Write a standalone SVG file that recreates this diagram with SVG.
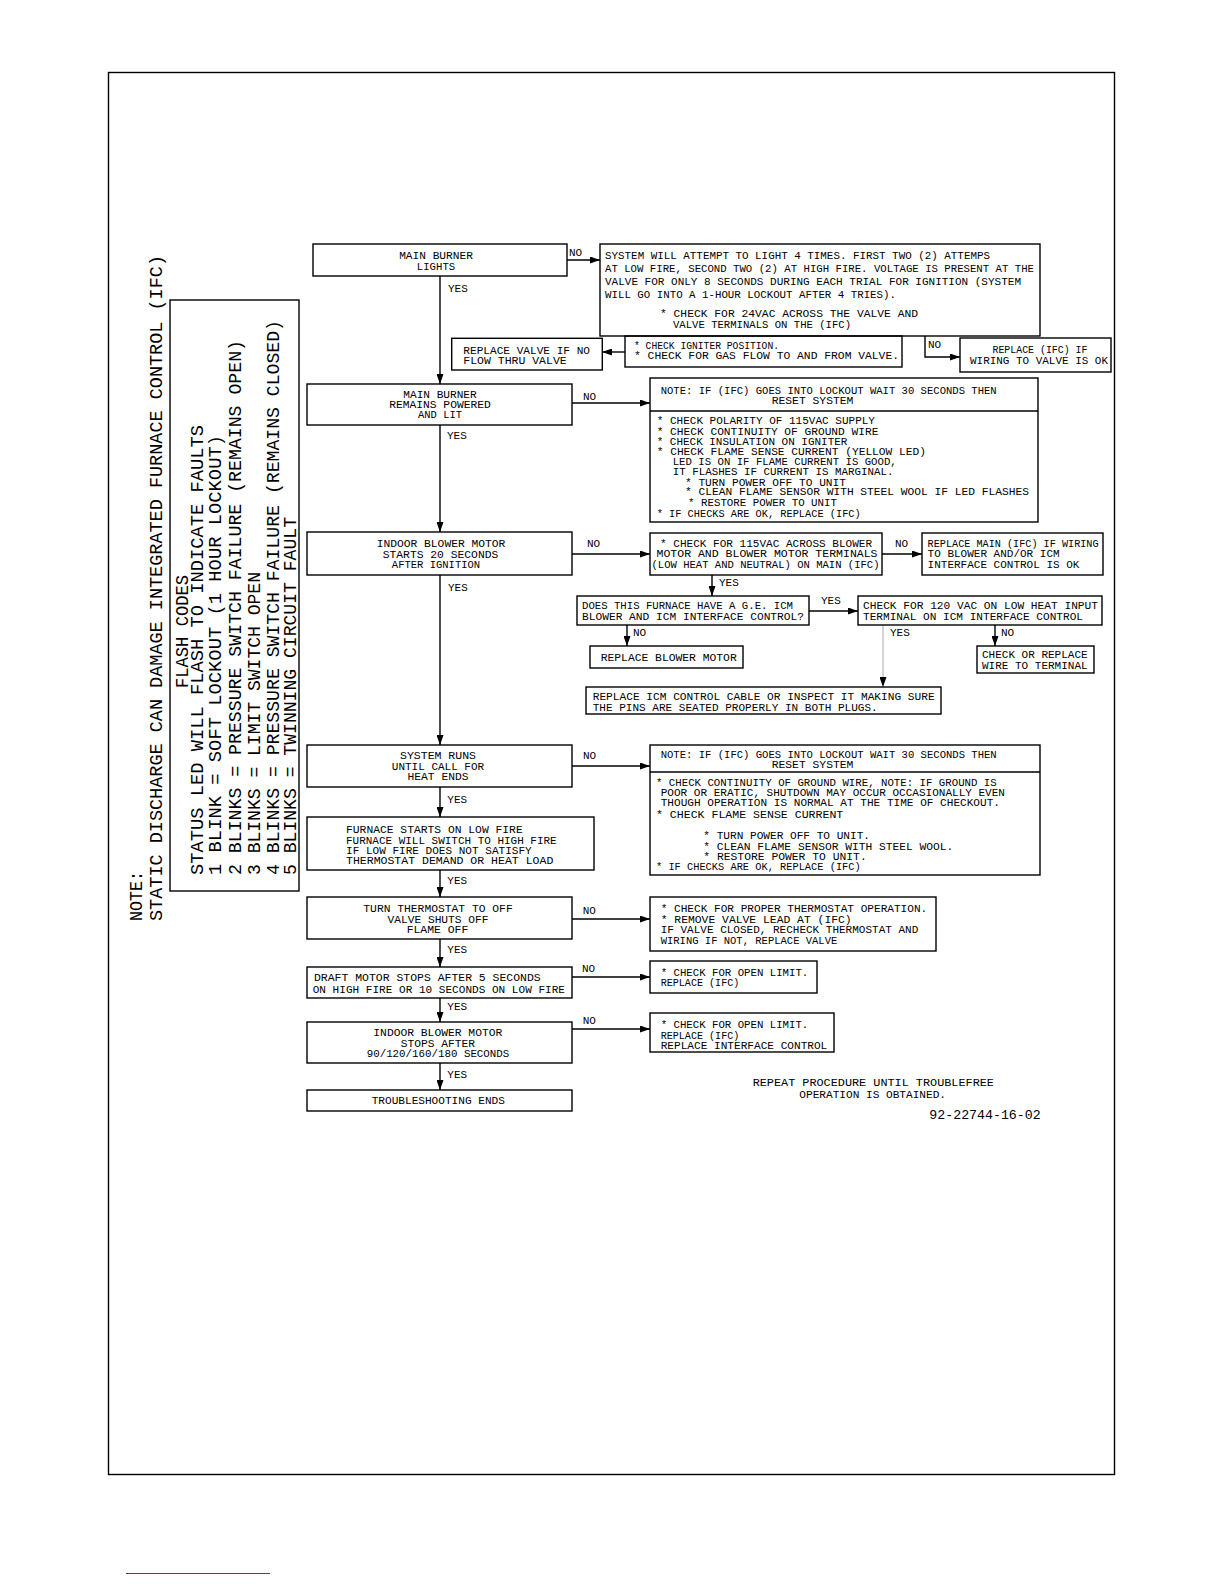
<svg xmlns="http://www.w3.org/2000/svg" width="1224" height="1584" viewBox="0 0 1224 1584">
<defs>
<marker id="ah" markerUnits="userSpaceOnUse" markerWidth="10" markerHeight="7" refX="10" refY="3.5" orient="auto">
<path d="M0,0 L10,3.5 L0,7 z" fill="#000"/>
</marker>
<style>
.b{fill:none;stroke:#000;stroke-width:1.4}
.ln{fill:none;stroke:#000;stroke-width:1.4}
.thin{fill:none;stroke:#aaa;stroke-width:1}
.t{font-family:"Liberation Mono","DejaVu Sans Mono",monospace;font-size:11px;fill:#000}
.c{text-anchor:middle}
.big{font-size:19px}
</style>
</defs>
<rect width="1224" height="1584" fill="#fff"/>
<rect x="108.5" y="72.5" width="1006" height="1402" class="b"/>
<line x1="126" y1="1573.5" x2="270" y2="1573.5" stroke="#3344cc" stroke-width="1"/>

<g id="note-left">
<text class="t big" transform="translate(142,921) rotate(-90)" textLength="50" lengthAdjust="spacingAndGlyphs">NOTE:</text>
<text class="t big" transform="translate(162,921) rotate(-90)" textLength="666" lengthAdjust="spacingAndGlyphs">STATIC DISCHARGE CAN DAMAGE INTEGRATED FURNACE CONTROL (IFC)</text>
</g>
<g id="flash-codes">
<rect x="170" y="300" width="129" height="591" class="b"/>
<text class="t big" transform="translate(188,688) rotate(-90)" textLength="113" lengthAdjust="spacingAndGlyphs">FLASH CODES</text>
<text class="t big" transform="translate(203,875) rotate(-90)" textLength="450" lengthAdjust="spacingAndGlyphs">STATUS LED WILL FLASH TO INDICATE FAULTS</text>
<text class="t big" transform="translate(221,875) rotate(-90)" textLength="440" lengthAdjust="spacingAndGlyphs">1 BLINK = SOFT LOCKOUT (1 HOUR LOCKOUT)</text>
<text class="t big" transform="translate(241,875) rotate(-90)" textLength="535" lengthAdjust="spacingAndGlyphs">2 BLINKS = PRESSURE SWITCH FAILURE (REMAINS OPEN)</text>
<text class="t big" transform="translate(260,875) rotate(-90)" textLength="303" lengthAdjust="spacingAndGlyphs">3 BLINKS = LIMIT SWITCH OPEN</text>
<text class="t big" transform="translate(279,875) rotate(-90)" textLength="555" lengthAdjust="spacingAndGlyphs">4 BLINKS = PRESSURE SWITCH FAILURE (REMAINS CLOSED)</text>
<text class="t big" transform="translate(296,875) rotate(-90)" textLength="358" lengthAdjust="spacingAndGlyphs">5 BLINKS = TWINNING CIRCUIT FAULT</text>
</g>

<g id="connectors">
<line x1="440" y1="276" x2="440" y2="384" class="ln" marker-end="url(#ah)"/>
<line x1="440" y1="425" x2="440" y2="532" class="ln" marker-end="url(#ah)"/>
<line x1="440" y1="575" x2="440" y2="745" class="ln" marker-end="url(#ah)"/>
<line x1="440" y1="787" x2="440" y2="817" class="ln" marker-end="url(#ah)"/>
<line x1="440" y1="870" x2="440" y2="897" class="ln" marker-end="url(#ah)"/>
<line x1="440" y1="939" x2="440" y2="967" class="ln" marker-end="url(#ah)"/>
<line x1="440" y1="998" x2="440" y2="1022" class="ln" marker-end="url(#ah)"/>
<line x1="440" y1="1063" x2="440" y2="1090" class="ln" marker-end="url(#ah)"/>
<line x1="567" y1="260" x2="600" y2="260" class="ln" marker-end="url(#ah)"/>
<line x1="625" y1="352" x2="602" y2="352" class="ln" marker-end="url(#ah)"/>
<polyline points="925,336 925,357 960,357" class="ln" marker-end="url(#ah)"/>
<line x1="572" y1="403" x2="650" y2="403" class="ln" marker-end="url(#ah)"/>
<line x1="572" y1="554" x2="650" y2="554" class="ln" marker-end="url(#ah)"/>
<line x1="882" y1="554" x2="922" y2="554" class="ln" marker-end="url(#ah)"/>
<line x1="712" y1="575" x2="712" y2="596" class="ln" marker-end="url(#ah)"/>
<line x1="809" y1="611" x2="858" y2="611" class="ln" marker-end="url(#ah)"/>
<line x1="627" y1="625" x2="627" y2="646" class="ln" marker-end="url(#ah)"/>
<line x1="883" y1="625" x2="883" y2="687" class="thin" marker-end="url(#ah)"/>
<line x1="995" y1="625" x2="995" y2="646" class="ln" marker-end="url(#ah)"/>
<line x1="572" y1="766" x2="650" y2="766" class="ln" marker-end="url(#ah)"/>
<line x1="572" y1="919" x2="650" y2="919" class="ln" marker-end="url(#ah)"/>
<line x1="572" y1="977" x2="650" y2="977" class="ln" marker-end="url(#ah)"/>
<line x1="572" y1="1029" x2="650" y2="1029" class="ln" marker-end="url(#ah)"/>
<text class="t" x="569" y="255.5">NO</text>
<text class="t" x="448" y="292">YES</text>
<text class="t" x="928" y="347.5">NO</text>
<text class="t" x="583" y="399.7">NO</text>
<text class="t" x="447" y="439.4">YES</text>
<text class="t" x="587" y="547">NO</text>
<text class="t" x="895" y="547">NO</text>
<text class="t" x="448" y="591">YES</text>
<text class="t" x="719" y="586">YES</text>
<text class="t" x="821" y="604">YES</text>
<text class="t" x="633" y="636">NO</text>
<text class="t" x="890" y="636">YES</text>
<text class="t" x="1001" y="636">NO</text>
<text class="t" x="583" y="758.7">NO</text>
<text class="t" x="447.3" y="803">YES</text>
<text class="t" x="447.3" y="883.7">YES</text>
<text class="t" x="582.7" y="913.7">NO</text>
<text class="t" x="447.3" y="953">YES</text>
<text class="t" x="582" y="972">NO</text>
<text class="t" x="447.3" y="1009.7">YES</text>
<text class="t" x="582.7" y="1024.4">NO</text>
<text class="t" x="447.3" y="1078">YES</text>
</g>

<g id="main-burner-lights">
<rect x="313" y="244" width="254" height="32" class="b"/>
<text class="t c" x="436" y="259.4" textLength="73.7" lengthAdjust="spacingAndGlyphs">MAIN BURNER</text>
<text class="t c" x="436" y="269.7" textLength="38.3" lengthAdjust="spacingAndGlyphs">LIGHTS</text>
</g>
<g id="system-attempt">
<rect x="600" y="244" width="440" height="92" class="b"/>
<text class="t" x="605" y="259" textLength="385" lengthAdjust="spacingAndGlyphs">SYSTEM WILL ATTEMPT TO LIGHT 4 TIMES. FIRST TWO (2) ATTEMPS</text>
<text class="t" x="605" y="272" textLength="429" lengthAdjust="spacingAndGlyphs">AT LOW FIRE, SECOND TWO (2) AT HIGH FIRE. VOLTAGE IS PRESENT AT THE</text>
<text class="t" x="605" y="285" textLength="416" lengthAdjust="spacingAndGlyphs">VALVE FOR ONLY 8 SECONDS DURING EACH TRIAL FOR IGNITION (SYSTEM</text>
<text class="t" x="605" y="298" textLength="291" lengthAdjust="spacingAndGlyphs">WILL GO INTO A 1-HOUR LOCKOUT AFTER 4 TRIES).</text>
<text class="t" x="660" y="317" textLength="258" lengthAdjust="spacingAndGlyphs">* CHECK FOR 24VAC ACROSS THE VALVE AND</text>
<text class="t" x="673" y="328" textLength="178" lengthAdjust="spacingAndGlyphs">VALVE TERMINALS ON THE (IFC)</text>
</g>
<g id="check-igniter">
<rect x="625" y="336" width="277" height="31" class="b"/>
<text class="t" x="634" y="348.5" textLength="145" lengthAdjust="spacingAndGlyphs">* CHECK IGNITER POSITION.</text>
<text class="t" x="634" y="359" textLength="265" lengthAdjust="spacingAndGlyphs">* CHECK FOR GAS FLOW TO AND FROM VALVE.</text>
</g>
<g id="replace-valve">
<rect x="451.7" y="338.3" width="150.6" height="31.7" class="b"/>
<text class="t" x="463.3" y="353.7" textLength="126.7" lengthAdjust="spacingAndGlyphs">REPLACE VALVE IF NO</text>
<text class="t" x="463.3" y="363.7" textLength="103.4" lengthAdjust="spacingAndGlyphs">FLOW THRU VALVE</text>
</g>
<g id="replace-ifc-wiring">
<rect x="960" y="338" width="151" height="34" class="b"/>
<text class="t c" x="1040" y="352.5" textLength="95" lengthAdjust="spacingAndGlyphs">REPLACE (IFC) IF</text>
<text class="t c" x="1039" y="364" textLength="138" lengthAdjust="spacingAndGlyphs">WIRING TO VALVE IS OK</text>
</g>

<g id="main-burner-remains">
<rect x="307" y="384" width="265" height="41" class="b"/>
<text class="t c" x="440" y="397.7" textLength="73.4" lengthAdjust="spacingAndGlyphs">MAIN BURNER</text>
<text class="t c" x="440" y="408" textLength="101.7" lengthAdjust="spacingAndGlyphs">REMAINS POWERED</text>
<text class="t c" x="440" y="418" textLength="44" lengthAdjust="spacingAndGlyphs">AND LIT</text>
</g>
<g id="note-lockout-1">
<rect x="650" y="378" width="388" height="144" class="b"/>
<line x1="650" y1="411" x2="1038" y2="411" class="ln"/>
<text class="t" x="660.7" y="394.4" textLength="336" lengthAdjust="spacingAndGlyphs">NOTE: IF (IFC) GOES INTO LOCKOUT WAIT 30 SECONDS THEN</text>
<text class="t" x="771.7" y="404.4" textLength="81.7" lengthAdjust="spacingAndGlyphs">RESET SYSTEM</text>
<text class="t" x="656.7" y="424.4" textLength="218.3" lengthAdjust="spacingAndGlyphs">* CHECK POLARITY OF 115VAC SUPPLY</text>
<text class="t" x="656.7" y="434.7" textLength="221.7" lengthAdjust="spacingAndGlyphs">* CHECK CONTINUITY OF GROUND WIRE</text>
<text class="t" x="656.7" y="445" textLength="190.7" lengthAdjust="spacingAndGlyphs">* CHECK INSULATION ON IGNITER</text>
<text class="t" x="656.7" y="455" textLength="269.3" lengthAdjust="spacingAndGlyphs">* CHECK FLAME SENSE CURRENT (YELLOW LED)</text>
<text class="t" x="672.7" y="465.4" textLength="224" lengthAdjust="spacingAndGlyphs">LED IS ON IF FLAME CURRENT IS GOOD,</text>
<text class="t" x="672.7" y="475.4" textLength="220.7" lengthAdjust="spacingAndGlyphs">IT FLASHES IF CURRENT IS MARGINAL.</text>
<text class="t" x="685" y="485.7" textLength="161" lengthAdjust="spacingAndGlyphs">* TURN POWER OFF TO UNIT</text>
<text class="t" x="685" y="495.4" textLength="344" lengthAdjust="spacingAndGlyphs">* CLEAN FLAME SENSOR WITH STEEL WOOL IF LED FLASHES</text>
<text class="t" x="688" y="506" textLength="149" lengthAdjust="spacingAndGlyphs">* RESTORE POWER TO UNIT</text>
<text class="t" x="656.7" y="516.7" textLength="204" lengthAdjust="spacingAndGlyphs">* IF CHECKS ARE OK, REPLACE (IFC)</text>
</g>

<g id="indoor-blower-starts">
<rect x="307" y="532" width="265" height="43" class="b"/>
<text class="t c" x="441" y="547" textLength="128.7" lengthAdjust="spacingAndGlyphs">INDOOR BLOWER MOTOR</text>
<text class="t c" x="440.5" y="557.7" textLength="115.6" lengthAdjust="spacingAndGlyphs">STARTS 20 SECONDS</text>
<text class="t c" x="436" y="568" textLength="88.3" lengthAdjust="spacingAndGlyphs">AFTER IGNITION</text>
</g>
<g id="check-115vac">
<rect x="650" y="533" width="232" height="42" class="b"/>
<text class="t c" x="766" y="547" textLength="212" lengthAdjust="spacingAndGlyphs">* CHECK FOR 115VAC ACROSS BLOWER</text>
<text class="t c" x="767" y="557.3" textLength="221" lengthAdjust="spacingAndGlyphs">MOTOR AND BLOWER MOTOR TERMINALS</text>
<text class="t c" x="765.5" y="567.5" textLength="228" lengthAdjust="spacingAndGlyphs">(LOW HEAT AND NEUTRAL) ON MAIN (IFC)</text>
</g>
<g id="replace-main-ifc">
<rect x="922" y="533" width="181" height="42" class="b"/>
<text class="t" x="927.6" y="547" textLength="171" lengthAdjust="spacingAndGlyphs">REPLACE MAIN (IFC) IF WIRING</text>
<text class="t" x="927.6" y="557.3">TO BLOWER AND/OR ICM</text>
<text class="t" x="927.6" y="567.5">INTERFACE CONTROL IS OK</text>
</g>
<g id="ge-icm-question">
<rect x="577" y="596" width="232" height="29" class="b"/>
<text class="t" x="582" y="608.5" textLength="211" lengthAdjust="spacingAndGlyphs">DOES THIS FURNACE HAVE A G.E. ICM</text>
<text class="t" x="582" y="619.5" textLength="222" lengthAdjust="spacingAndGlyphs">BLOWER AND ICM INTERFACE CONTROL?</text>
</g>
<g id="check-120vac">
<rect x="858" y="596" width="244" height="29" class="b"/>
<text class="t" x="863" y="608.5" textLength="235" lengthAdjust="spacingAndGlyphs">CHECK FOR 120 VAC ON LOW HEAT INPUT</text>
<text class="t" x="863" y="619.5" textLength="220" lengthAdjust="spacingAndGlyphs">TERMINAL ON ICM INTERFACE CONTROL</text>
</g>
<g id="replace-blower-motor">
<rect x="590" y="646" width="153" height="22" class="b"/>
<text class="t" x="600.7" y="661" textLength="136" lengthAdjust="spacingAndGlyphs">REPLACE BLOWER MOTOR</text>
</g>
<g id="check-replace-wire">
<rect x="977" y="646" width="117" height="27" class="b"/>
<text class="t" x="982" y="657.5">CHECK OR REPLACE</text>
<text class="t" x="982" y="668.5">WIRE TO TERMINAL</text>
</g>
<g id="replace-icm-cable">
<rect x="586" y="687" width="355" height="27" class="b"/>
<text class="t" x="592.7" y="700.4" textLength="342" lengthAdjust="spacingAndGlyphs">REPLACE ICM CONTROL CABLE OR INSPECT IT MAKING SURE</text>
<text class="t" x="592.7" y="711" textLength="285" lengthAdjust="spacingAndGlyphs">THE PINS ARE SEATED PROPERLY IN BOTH PLUGS.</text>
</g>

<g id="system-runs">
<rect x="307" y="745" width="265" height="42" class="b"/>
<text class="t c" x="438" y="759.4" textLength="76" lengthAdjust="spacingAndGlyphs">SYSTEM RUNS</text>
<text class="t c" x="438" y="769.7" textLength="92.3" lengthAdjust="spacingAndGlyphs">UNTIL CALL FOR</text>
<text class="t c" x="438" y="780.4" textLength="61" lengthAdjust="spacingAndGlyphs">HEAT ENDS</text>
</g>
<g id="note-lockout-2">
<rect x="650" y="745" width="390" height="130" class="b"/>
<line x1="650" y1="772" x2="1040" y2="772" class="ln"/>
<text class="t" x="660.7" y="757.7" textLength="336" lengthAdjust="spacingAndGlyphs">NOTE: IF (IFC) GOES INTO LOCKOUT WAIT 30 SECONDS THEN</text>
<text class="t" x="771.7" y="767.7" textLength="81.7" lengthAdjust="spacingAndGlyphs">RESET SYSTEM</text>
<text class="t" x="656" y="786.4" textLength="340.7" lengthAdjust="spacingAndGlyphs">* CHECK CONTINUITY OF GROUND WIRE, NOTE: IF GROUND IS</text>
<text class="t" x="660.7" y="796.4" textLength="344.3" lengthAdjust="spacingAndGlyphs">POOR OR ERATIC, SHUTDOWN MAY OCCUR OCCASIONALLY EVEN</text>
<text class="t" x="660.7" y="806.4" textLength="339.3" lengthAdjust="spacingAndGlyphs">THOUGH OPERATION IS NORMAL AT THE TIME OF CHECKOUT.</text>
<text class="t" x="656" y="817.7" textLength="187.3" lengthAdjust="spacingAndGlyphs">* CHECK FLAME SENSE CURRENT</text>
<text class="t" x="703.3" y="838.7" textLength="166.7" lengthAdjust="spacingAndGlyphs">* TURN POWER OFF TO UNIT.</text>
<text class="t" x="703.3" y="849.7" textLength="250" lengthAdjust="spacingAndGlyphs">* CLEAN FLAME SENSOR WITH STEEL WOOL.</text>
<text class="t" x="703.3" y="859.7" textLength="163.4" lengthAdjust="spacingAndGlyphs">* RESTORE POWER TO UNIT.</text>
<text class="t" x="656" y="870.4" textLength="204.7" lengthAdjust="spacingAndGlyphs">* IF CHECKS ARE OK, REPLACE (IFC)</text>
</g>
<g id="furnace-starts">
<rect x="307" y="817" width="287" height="53" class="b"/>
<text class="t" x="346" y="833" textLength="176.7" lengthAdjust="spacingAndGlyphs">FURNACE STARTS ON LOW FIRE</text>
<text class="t" x="346" y="843.7" textLength="210.7" lengthAdjust="spacingAndGlyphs">FURNACE WILL SWITCH TO HIGH FIRE</text>
<text class="t" x="346" y="853.7" textLength="185.7" lengthAdjust="spacingAndGlyphs">IF LOW FIRE DOES NOT SATISFY</text>
<text class="t" x="346" y="864.4" textLength="207.3" lengthAdjust="spacingAndGlyphs">THERMOSTAT DEMAND OR HEAT LOAD</text>
</g>
<g id="turn-thermostat-off">
<rect x="307" y="897" width="265" height="42" class="b"/>
<text class="t c" x="438" y="912" textLength="149.4" lengthAdjust="spacingAndGlyphs">TURN THERMOSTAT TO OFF</text>
<text class="t c" x="438" y="922.7" textLength="101" lengthAdjust="spacingAndGlyphs">VALVE SHUTS OFF</text>
<text class="t c" x="437.5" y="933" textLength="61.6" lengthAdjust="spacingAndGlyphs">FLAME OFF</text>
</g>
<g id="check-thermostat">
<rect x="650" y="897" width="286" height="54" class="b"/>
<text class="t" x="660.7" y="912" textLength="266.6" lengthAdjust="spacingAndGlyphs">* CHECK FOR PROPER THERMOSTAT OPERATION.</text>
<text class="t" x="660.7" y="922.7" textLength="191" lengthAdjust="spacingAndGlyphs">* REMOVE VALVE LEAD AT (IFC)</text>
<text class="t" x="660.7" y="933.4" textLength="257.6" lengthAdjust="spacingAndGlyphs">IF VALVE CLOSED, RECHECK THERMOSTAT AND</text>
<text class="t" x="660.7" y="944" textLength="176.6" lengthAdjust="spacingAndGlyphs">WIRING IF NOT, REPLACE VALVE</text>
</g>
<g id="draft-motor-stops">
<rect x="307" y="967" width="265" height="31" class="b"/>
<text class="t" x="314" y="981" textLength="226.7" lengthAdjust="spacingAndGlyphs">DRAFT MOTOR STOPS AFTER 5 SECONDS</text>
<text class="t" x="312.7" y="992.7" textLength="252.3" lengthAdjust="spacingAndGlyphs">ON HIGH FIRE OR 10 SECONDS ON LOW FIRE</text>
</g>
<g id="open-limit-1">
<rect x="650" y="961" width="167" height="32" class="b"/>
<text class="t" x="660.7" y="976" textLength="147.6" lengthAdjust="spacingAndGlyphs">* CHECK FOR OPEN LIMIT.</text>
<text class="t" x="660.7" y="986.4" textLength="78.6" lengthAdjust="spacingAndGlyphs">REPLACE (IFC)</text>
</g>
<g id="indoor-blower-stops">
<rect x="307" y="1022" width="265" height="41" class="b"/>
<text class="t c" x="437.8" y="1036.4" textLength="129" lengthAdjust="spacingAndGlyphs">INDOOR BLOWER MOTOR</text>
<text class="t c" x="437.8" y="1047" textLength="74.3" lengthAdjust="spacingAndGlyphs">STOPS AFTER</text>
<text class="t c" x="438" y="1057" textLength="142.6" lengthAdjust="spacingAndGlyphs">90/120/160/180 SECONDS</text>
</g>
<g id="open-limit-2">
<rect x="650" y="1013" width="184" height="39" class="b"/>
<text class="t" x="660.7" y="1028" textLength="147.6" lengthAdjust="spacingAndGlyphs">* CHECK FOR OPEN LIMIT.</text>
<text class="t" x="660.7" y="1038.7" textLength="78.6" lengthAdjust="spacingAndGlyphs">REPLACE (IFC)</text>
<text class="t" x="660.7" y="1048.7" textLength="166.6" lengthAdjust="spacingAndGlyphs">REPLACE INTERFACE CONTROL</text>
</g>
<g id="troubleshooting-ends">
<rect x="307" y="1090" width="265" height="21" class="b"/>
<text class="t c" x="438.3" y="1104.4" textLength="133.3" lengthAdjust="spacingAndGlyphs">TROUBLESHOOTING ENDS</text>
</g>
<g id="footer-notes">
<text class="t c" x="873.3" y="1086.4" textLength="241.3" lengthAdjust="spacingAndGlyphs">REPEAT PROCEDURE UNTIL TROUBLEFREE</text>
<text class="t c" x="872.7" y="1097.7" textLength="146.7" lengthAdjust="spacingAndGlyphs">OPERATION IS OBTAINED.</text>
<text class="t" x="929.3" y="1119" style="font-size:13px" textLength="111.4" lengthAdjust="spacingAndGlyphs">92-22744-16-02</text>
</g>
</svg>
